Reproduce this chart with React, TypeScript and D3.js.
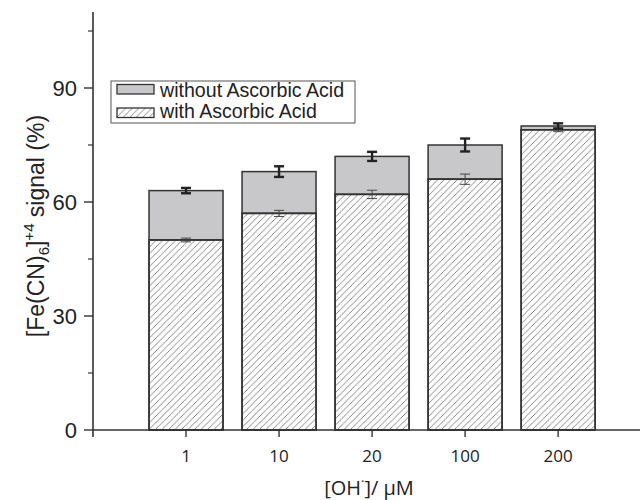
import React from "react";
import * as d3 from "d3";

const categories = ["1", "10", "20", "100", "200"];
const withoutAA = [63, 68, 72, 75, 80];
const withoutAAErr = [0.7, 1.4, 1.2, 1.7, 0.7];
const withAA = [50, 57, 62, 66, 79];
const withAAErr = [0.5, 0.8, 1.1, 1.35, 0.5];
const yMajorTicks = [0, 30, 60, 90];
const yMinorTicks = [15, 45, 75, 105];

const W = 641;
const H = 500;
const axisX = 93;
const axisY = 430;

export default function App() {
  const y = d3.scaleLinear().domain([0, 110]).range([axisY, 12]);
  const x = d3.scaleLinear().domain([0, 5.88]).range([axisX, 640]);
  const barW = 74;
  const sans = "'Liberation Sans', Arial, sans-serif";
  const open = "'Open Sans', sans-serif";
  const stroke = "#333";

  return (
    <svg width={W} height={H} style={{ position: "absolute", left: 0, top: 0, background: "#fff" }}>
      <defs>
        <pattern id="hatch" patternUnits="userSpaceOnUse" width={6.5} height={6.5}>
          <path d="M0,6.5 L6.5,0 M-1.5,1.5 L1.5,-1.5 M5,8 L8,5" stroke="#555" strokeWidth={0.7} />
        </pattern>
      </defs>

      {/* bars */}
      {categories.map((c, i) => {
        const cx = x(i + 1);
        return (
          <g key={c}>
            <rect x={cx - barW / 2} y={y(withoutAA[i])} width={barW} height={y(withAA[i]) - y(withoutAA[i])}
              fill="#c8c8ca" stroke={stroke} strokeWidth={1.5} />
            <rect x={cx - barW / 2} y={y(withAA[i])} width={barW} height={axisY - y(withAA[i])}
              fill="#fff" stroke={stroke} strokeWidth={1.5} />
            <rect x={cx - barW / 2} y={y(withAA[i])} width={barW} height={axisY - y(withAA[i])}
              fill="url(#hatch)" stroke={stroke} strokeWidth={1.5} />
            <g stroke="#444" strokeWidth={1}>
              <line x1={cx} x2={cx} y1={y(withAA[i] + withAAErr[i])} y2={y(withAA[i] - withAAErr[i])} />
              <line x1={cx - 5} x2={cx + 5} y1={y(withAA[i] + withAAErr[i])} y2={y(withAA[i] + withAAErr[i])} />
              <line x1={cx - 5} x2={cx + 5} y1={y(withAA[i] - withAAErr[i])} y2={y(withAA[i] - withAAErr[i])} />
            </g>
            <g stroke="#222" strokeWidth={2.4}>
              <line x1={cx} x2={cx} y1={y(withoutAA[i] + withoutAAErr[i])} y2={y(withoutAA[i] - withoutAAErr[i])} />
              <line x1={cx - 5} x2={cx + 5} y1={y(withoutAA[i] + withoutAAErr[i])} y2={y(withoutAA[i] + withoutAAErr[i])} />
              <line x1={cx - 5} x2={cx + 5} y1={y(withoutAA[i] - withoutAAErr[i])} y2={y(withoutAA[i] - withoutAAErr[i])} />
            </g>
          </g>
        );
      })}

      {/* axes */}
      <line x1={axisX} x2={axisX} y1={12} y2={axisY + 7} stroke={stroke} strokeWidth={1.6} />
      <line x1={axisX} x2={640} y1={axisY} y2={axisY} stroke={stroke} strokeWidth={1.6} />
      {yMajorTicks.map((t) => (
        <g key={t}>
          <line x1={axisX - 9} x2={axisX} y1={y(t)} y2={y(t)} stroke={stroke} strokeWidth={1.4} />
          <text x={axisX - 16} y={y(t)} dy="0.36em" textAnchor="end" fontFamily={sans} fontSize={22} fill="#222">{t}</text>
        </g>
      ))}
      {yMinorTicks.map((t) => (
        <line key={t} x1={axisX - 5} x2={axisX} y1={y(t)} y2={y(t)} stroke={stroke} strokeWidth={1.2} />
      ))}
      {categories.map((c, i) => (
        <g key={c}>
          <line x1={x(i + 1)} x2={x(i + 1)} y1={axisY} y2={axisY + 7} stroke={stroke} strokeWidth={1.4} />
          <text x={x(i + 1)} y={462} textAnchor="middle" fontFamily={open} fontSize={17} fill="#222">{c}</text>
        </g>
      ))}

      {/* axis titles */}
      <text transform={`translate(44,226) rotate(-90)`} textAnchor="middle" fontFamily={sans} fontSize={23} fill="#222">
        [Fe(CN)<tspan fontSize={15} dy={5}>6</tspan><tspan dy={-5}>]</tspan><tspan fontSize={15} dy={-10}>+4</tspan><tspan dy={10}> signal (%)</tspan>
      </text>
      <text x={369} y={495} textAnchor="middle" fontFamily={open} fontSize={20} fill="#222">
        [OH<tspan fontSize={13} dy={-9}>·</tspan><tspan dy={9}>]/ μM</tspan>
      </text>

      {/* legend */}
      <rect x={111} y={81} width={244} height={42} fill="#fff" stroke="#555" strokeWidth={1} />
      <rect x={117} y={84.5} width={37} height={9.5} fill="#c8c8ca" stroke={stroke} strokeWidth={1.3} />
      <rect x={117} y={108} width={37} height={9.5} fill="url(#hatch)" stroke={stroke} strokeWidth={1.3} />
      <text x={160} y={96.5} fontFamily={sans} fontSize={19.6} fill="#222">without Ascorbic Acid</text>
      <text x={160} y={117.5} fontFamily={sans} fontSize={19.6} fill="#222">with Ascorbic Acid</text>
    </svg>
  );
}
